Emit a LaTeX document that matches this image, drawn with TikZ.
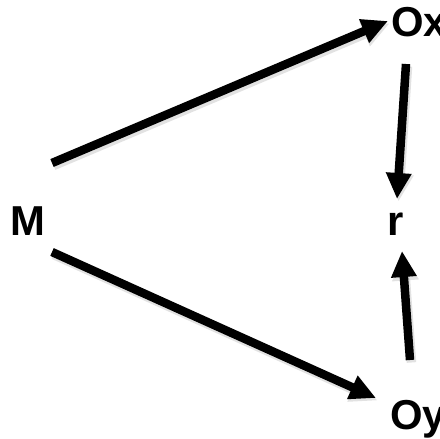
\documentclass[tikz,border=0pt]{standalone}
\usepackage{fontspec}
\setmainfont{Liberation Sans}
\usetikzlibrary{arrows.meta}
\begin{document}
\begin{tikzpicture}[x=1bp,y=-1bp,
  lbl/.style={anchor=base west,inner sep=0pt,font=\fontsize{42}{42}\selectfont\bfseries},
  arr/.style={line width=8.5bp,-{Triangle[length=26bp,width=24bp]}},
  shad/.style={line width=9.5bp,-{Triangle[length=27bp,width=25bp]},draw=black!25,opacity=0.45,transform canvas={shift={(1.5bp,-2.5bp)}}}]
\useasboundingbox (0,0) rectangle (440,439);
\clip (0,0) rectangle (440,439);
\node[lbl] (M) at (10,235) {M};
\node[lbl] (r) at (387,235) {r};
\node[lbl] (Ox) at (391,37) {Ox};
\node[lbl] (Oy) at (390,429) {Oy};
\coordinate (m1) at (52,163);
\coordinate (ox1) at (388,21);
\coordinate (m2) at (52,252);
\coordinate (oy1) at (376,398);
\coordinate (ox2) at (406,64);
\coordinate (r1) at (397,199);
\coordinate (oy2) at (410,360);
\coordinate (r2) at (402,251);
\foreach \a/\b in {m1/ox1,m2/oy1,ox2/r1,oy2/r2}{
  \draw[shad] (\a) -- (\b);
}
\foreach \a/\b in {m1/ox1,m2/oy1,ox2/r1,oy2/r2}{
  \draw[arr] (\a) -- (\b);
}
\end{tikzpicture}
\end{document}
